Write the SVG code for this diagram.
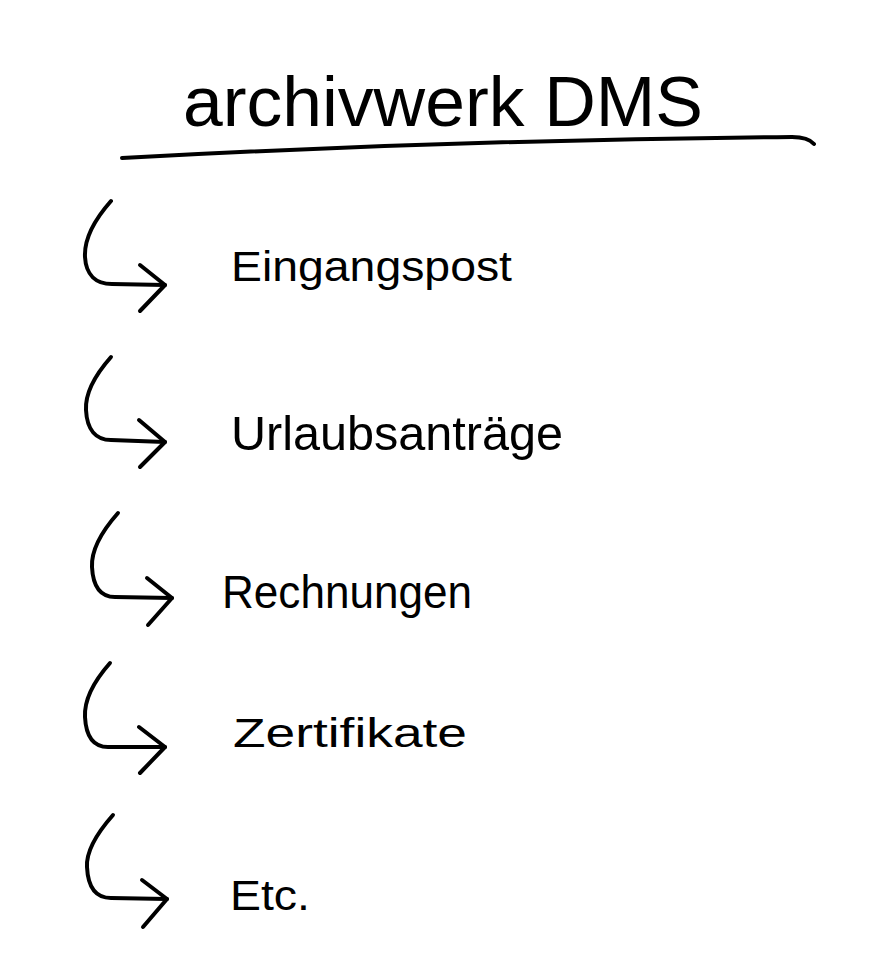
<svg xmlns="http://www.w3.org/2000/svg" width="886" height="955" viewBox="0 0 886 955">
<style>
.bg{fill:#ffffff}
.ink{fill:none;stroke:#000000;stroke-width:4;stroke-linecap:round;stroke-linejoin:round}
.title{font-family:"Liberation Sans","Noto Sans",sans-serif;font-size:70px;fill:#000000}
.item{font-family:"Liberation Sans","Noto Sans",sans-serif;fill:#000000}
</style>
<rect class="bg" x="0" y="0" width="886" height="955"/>
<g id="title">
<text class="title" x="183" y="126" textLength="520" lengthAdjust="spacingAndGlyphs">archivwerk DMS</text>
<path class="ink" d="M122,158 Q450,140 792,137 Q808,137 814,144"/>
</g>
<g id="connectors">
<path class="ink" d="M111,201 C96,218 84,238 85,257 C86,275 96,284 112,284 L165,285"/>
<path class="ink" d="M140,265 L165,285 L140,311"/>
<path class="ink" d="M111,357 C96,374 85,392 86,410 C87,430 96,440 111,440 L165,442"/>
<path class="ink" d="M139,420 L165,442 L140,467"/>
<path class="ink" d="M118,513 C103,530 91,548 92,567 C93,587 101,597 115,597 L172,598"/>
<path class="ink" d="M147,578 L172,598 L148,625"/>
<path class="ink" d="M110,663 C95,680 84,698 85,717 C86,737 94,747 108,747 L165,747"/>
<path class="ink" d="M139,727 L165,747 L140,773"/>
<path class="ink" d="M113,815 C98,832 86,850 87,867 C88,888 96,898 111,898 L167,899"/>
<path class="ink" d="M142,880 L167,899 L143,927"/>
</g>
<g id="node-eingangspost">
<text class="item" x="231" y="281" font-size="43" textLength="281" lengthAdjust="spacingAndGlyphs">Eingangspost</text>
</g>
<g id="node-urlaubsantraege">
<text class="item" x="231" y="450" font-size="48" textLength="332" lengthAdjust="spacingAndGlyphs">Urlaubsanträge</text>
</g>
<g id="node-rechnungen">
<text class="item" x="222" y="608" font-size="46" textLength="250" lengthAdjust="spacingAndGlyphs">Rechnungen</text>
</g>
<g id="node-zertifikate">
<text class="item" x="233" y="747" font-size="40" textLength="234" lengthAdjust="spacingAndGlyphs">Zertifikate</text>
</g>
<g id="node-etc">
<text class="item" x="230" y="910" font-size="42" textLength="80" lengthAdjust="spacingAndGlyphs">Etc.</text>
</g>
</svg>
